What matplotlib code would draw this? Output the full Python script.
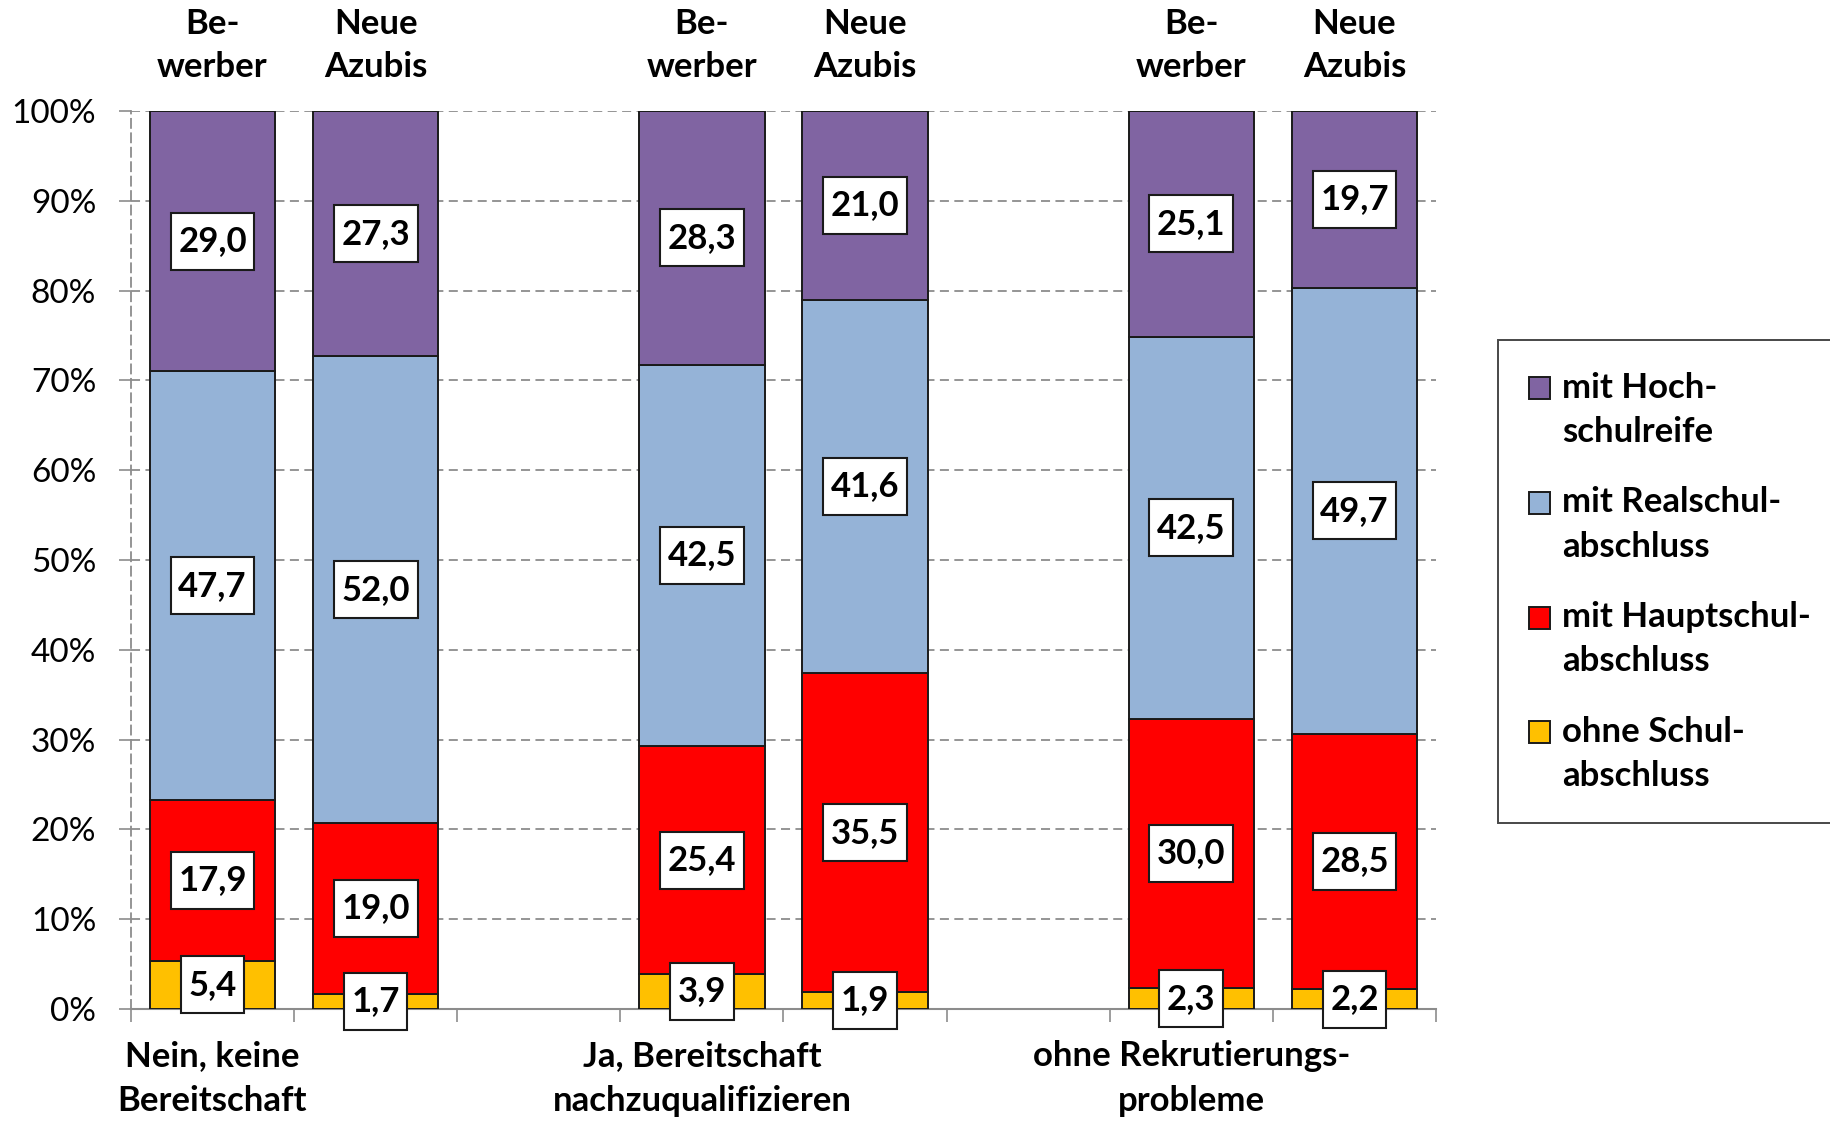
import matplotlib
matplotlib.use("Agg")
import matplotlib.pyplot as plt
import numpy as np
from matplotlib.patches import Patch, Rectangle
from matplotlib.path import Path
from matplotlib.legend_handler import HandlerPatch

# Bar order: three groups, each "Bewerber" and "Neue Azubis"
groups = ["Nein, keine\nBereitschaft", "Ja, Bereitschaft\nnachzuqualifizieren", "ohne Rekrutierungs-\nprobleme"]
bar_heads = ["Be-\nwerber", "Neue\nAzubis"] * 3

series_names = ["ohne Schul-\nabschluss", "mit Hauptschul-\nabschluss",
                "mit Realschul-\nabschluss", "mit Hoch-\nschulreife"]
ohne = [5.4, 1.7, 3.9, 1.9, 2.3, 2.2]
haupt = [17.9, 19.0, 25.4, 35.5, 30.0, 28.5]
real = [47.7, 52.0, 42.5, 41.6, 42.5, 49.7]
hoch = [29.0, 27.3, 28.3, 21.0, 25.1, 19.7]

colors = ["#FFC000", "#FF0000", "#95B3D7", "#8064A2"]

FONT = "Lato"
FS = 25
TICK_FS = 24


def label_box(x0, y0, width, height, mutation_size):
    """Rectangular label frame, a bit taller than the uniform-pad square box."""
    px = 0.22 * mutation_size
    py = 0.36 * mutation_size
    xa, xb = x0 - px, x0 + width + px
    ya, yb = y0 - py, y0 + height + py
    return Path([(xa, ya), (xb, ya), (xb, yb), (xa, yb), (xa, ya)],
                [Path.MOVETO, Path.LINETO, Path.LINETO, Path.LINETO, Path.CLOSEPOLY])


def first_line_square(legend, orig_handle, xdescent, ydescent, width, height, fontsize):
    # square marker lifted to sit beside the first line of a two-line label
    return Rectangle((-xdescent, -ydescent + 0.64 * fontsize), width, height)


fig = plt.figure(figsize=(18.31, 11.21), dpi=100)
ax = fig.add_axes([0.0715, 0.0999, 0.7128, 0.8011])

# category slots: bars in slots 0,1 / 3,4 / 6,7, empty slots 2 and 5
slots = np.array([0, 1, 3, 4, 6, 7])
data = np.array([ohne, haupt, real, hoch])
totals = data.sum(axis=0)
shares = data / totals * 100.0

bottom = np.zeros(len(slots))
for i in range(4):
    ax.bar(slots, shares[i], bottom=bottom, width=0.77, color=colors[i],
           edgecolor="#1a1a1a", linewidth=1.4, zorder=3)
    for x, b, h, v in zip(slots, bottom, shares[i], data[i]):
        ax.text(x, b + h / 2, f"{v:.1f}".replace(".", ","), ha="center", va="center",
                fontsize=FS, fontweight="bold", family=FONT, zorder=6,
                bbox=dict(boxstyle=label_box, facecolor="white",
                          edgecolor="#1a1a1a", linewidth=1.5))
    bottom += shares[i]

ax.set_xlim(-0.5, 7.5)
ax.set_ylim(0, 100)

# y axis
ax.set_yticks(np.arange(0, 101, 10))
ax.set_yticklabels([f"{v}%" for v in range(0, 101, 10)], fontsize=TICK_FS, family=FONT)
ax.tick_params(axis="y", length=9, width=1.2, color="#8c8c8c", pad=16)
ax.yaxis.grid(True, color="#8c8c8c", linestyle=(0, (5, 3)), linewidth=1.3, zorder=0)
ax.set_axisbelow(True)

# x axis: boundaries as tick marks, group names below the first bar of each group
ax.set_xticks(np.arange(-0.5, 8.0, 1.0), minor=True)
ax.tick_params(axis="x", which="minor", length=9, width=1.2, color="#8c8c8c")
ax.set_xticks([0, 3, 6])
ax.set_xticklabels(groups, fontsize=FS, fontweight="bold", family=FONT, linespacing=1.5)
ax.tick_params(axis="x", which="major", length=0, pad=22)

for side in ["top", "right"]:
    ax.spines[side].set_visible(False)
ax.spines["left"].set_color("#8c8c8c")
ax.spines["left"].set_linestyle((0, (5, 3)))
ax.spines["left"].set_linewidth(1.3)
ax.spines["bottom"].set_color("#8c8c8c")
ax.spines["bottom"].set_linewidth(1.5)

# headings above the bars
for x, t in zip(slots, bar_heads):
    ax.text(x, 1.073, t, transform=ax.get_xaxis_transform(), ha="center", va="center",
            fontsize=FS, fontweight="bold", family=FONT, linespacing=1.42)

handles = [Patch(facecolor=colors[i], edgecolor="#1a1a1a", linewidth=1.4) for i in range(3, -1, -1)]
labels = [series_names[i] for i in range(3, -1, -1)]
leg = fig.legend(handles, labels, loc="center left", bbox_to_anchor=(0.818, 0.481),
                 prop=dict(family=FONT, size=FS, weight="bold"),
                 frameon=True, fancybox=False, edgecolor="#1a1a1a",
                 handlelength=0.6, handleheight=0.6, handletextpad=0.35,
                 labelspacing=1.1, borderpad=0.9, borderaxespad=0,
                 handler_map={Patch: HandlerPatch(patch_func=first_line_square)})
leg.get_frame().set_linewidth(1.4)
for t in leg.get_texts():
    t.set_linespacing(1.48)

fig.savefig("out.png", dpi=100)
